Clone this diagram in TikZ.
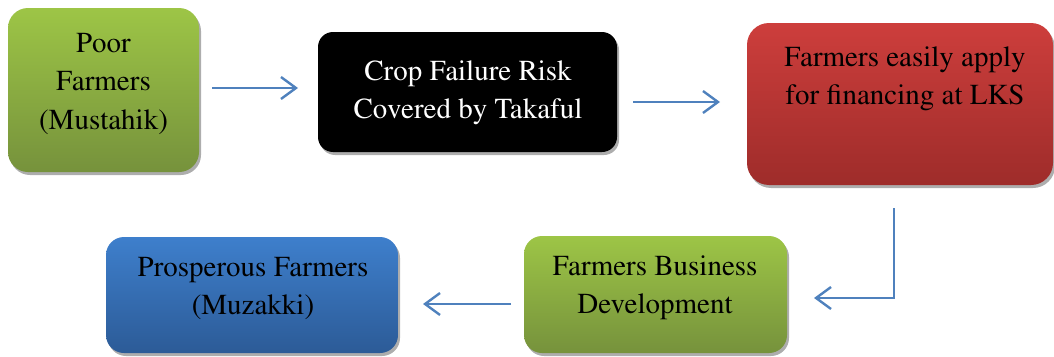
\documentclass[tikz,border=0pt]{standalone}
\usepackage[T1]{fontenc}
\renewcommand{\rmdefault}{ptm}
\usetikzlibrary{shadows,arrows.meta,calc}
\definecolor{gtop}{HTML}{9DC546}
\definecolor{gbot}{HTML}{76923C}
\definecolor{rtop}{HTML}{CD3E3C}
\definecolor{rbot}{HTML}{9E2C2A}
\definecolor{btop}{HTML}{3E7FCC}
\definecolor{bbot}{HTML}{2C5B97}
\definecolor{arrblue}{HTML}{4F81BD}
\tikzset{
  box/.style={draw=none, inner sep=0pt, outer sep=0pt,
    drop shadow={shadow xshift=2pt, shadow yshift=-3pt, fill=black!40, opacity=0.8}},
  greenbox/.style={box, top color=gtop, bottom color=gbot},
  redbox/.style={box, top color=rtop, bottom color=rbot},
  bluebox/.style={box, top color=btop, bottom color=bbot},
  blackbox/.style={box, fill=black},
  txt/.style={inner sep=0pt, outer sep=0pt, align=center, anchor=north,
    font=\fontsize{29}{38.5}\selectfont},
  arr/.style={draw=arrblue, line width=2.4pt, -{Straight Barb[length=15pt,width=22pt,line width=2.4pt]}}
}
\begin{document}
\begin{tikzpicture}[x=1pt,y=-1pt]
\useasboundingbox (0,0) rectangle (1054,356);
% boxes
\node[greenbox, rounded corners=20pt, minimum width=191pt, minimum height=164pt] (g1) at (103.5,90) {};
\node[blackbox, rounded corners=15pt, minimum width=299pt, minimum height=120pt] (blk) at (467.5,92) {};
\node[redbox, rounded corners=22pt, minimum width=306pt, minimum height=162pt] (red) at (900,104) {};
\node[greenbox, rounded corners=18pt, minimum width=263pt, minimum height=117pt] (g2) at (655.5,294.5) {};
\node[bluebox, rounded corners=18pt, minimum width=292pt, minimum height=116pt] (blue) at (252,295) {};
% texts
\node[txt] (t1) at (103.5,33.5) {Poor\\Farmers\\(Mustahik)};
\node[txt, text=white] (t2) at (468,60.5) {Crop Failure Risk\\Covered by Takaful};
\node[txt] (t3) at (905,46.5) {Farmers easily apply\\for financing at LKS};
\node[txt] (t4) at (655,255.5) {Farmers Business\\Development};
\node[txt] (t5) at (253,257.5) {Prosperous Farmers\\(Muzakki)};
% connectors
\coordinate (a1s) at ($(g1.east)+(13,-2)$);
\coordinate (a1e) at ($(blk.west)+(-20,-4)$);
\draw[arr] (a1s) -- (a1e);
\coordinate (a2s) at ($(blk.east)+(16,10)$);
\coordinate (a2e) at ($(red.west)+(-27,-2)$);
\draw[arr] (a2s) -- (a2e);
\coordinate (a3s) at ($(red.south)+(-6,23)$);
\coordinate (a3e) at ($(g2.east)+(27,3.5)$);
\draw[arr] (a3s) |- (a3e);
\coordinate (a4s) at ($(g2.west)+(-13,9.5)$);
\coordinate (a4e) at ($(blue.east)+(25,9)$);
\draw[arr] (a4s) -- (a4e);
\end{tikzpicture}
\end{document}
